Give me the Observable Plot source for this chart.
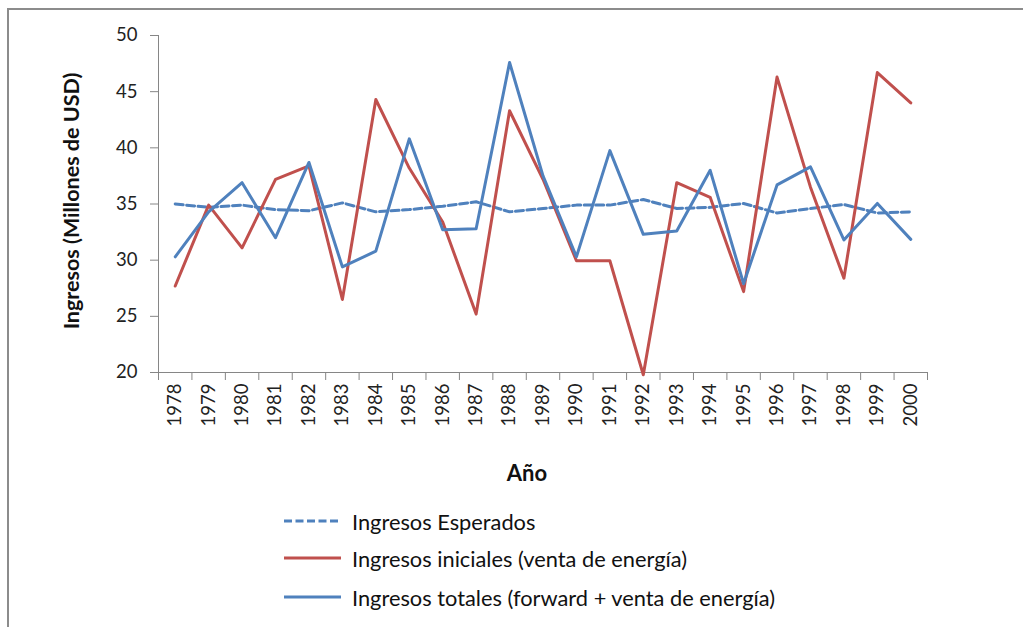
<!DOCTYPE html>
<html>
<head>
<meta charset="utf-8">
<script src="https://cdn.jsdelivr.net/npm/d3@7"></script>
<script src="https://cdn.jsdelivr.net/npm/@observablehq/plot@0.6"></script>
<style>
  html, body { margin: 0; padding: 0; background: #fff; }
  #wrap { position: relative; width: 1023px; height: 627px; overflow: hidden; font-family: Lato, "Open Sans", sans-serif; }
  #frame { position: absolute; left: 7px; top: 8px; width: 1030px; height: 640px; border-left: 2px solid #8c8c8c; border-top: 2px solid #8c8c8c; box-sizing: border-box; }
  #chart { position: absolute; left: 0; top: 0; }
  .leg { position: absolute; left: 284px; height: 30px; display: flex; align-items: center; font-size: 21.8px; color: #111; }
  .leg svg { margin-right: 11px; }
</style>
</head>
<body>
<div id="wrap">
  <div id="frame"></div>
  <div id="chart"></div>
  <div id="legend"></div>
</div>
<script>
const years = [1978,1979,1980,1981,1982,1983,1984,1985,1986,1987,1988,1989,1990,1991,1992,1993,1994,1995,1996,1997,1998,1999,2000];
const esperados = [35.0,34.7,34.9,34.5,34.4,35.1,34.3,34.5,34.8,35.2,34.3,34.6,34.9,34.9,35.4,34.6,34.7,35.05,34.2,34.6,34.95,34.2,34.3];
const iniciales = [27.7,34.9,31.1,37.2,38.4,26.5,44.3,38.2,33.4,25.2,43.3,37.2,29.95,29.95,19.8,36.9,35.6,27.2,46.3,36.5,28.4,46.7,44.0];
const totales = [30.3,34.3,36.9,32.0,38.7,29.4,30.8,40.8,32.7,32.8,47.6,37.5,30.3,39.75,32.3,32.6,38.0,27.9,36.7,38.3,31.8,35.05,31.85];
const yTicks = [20,25,30,35,40,45,50];
const seriesNames = ["Ingresos Esperados", "Ingresos iniciales (venta de energía)", "Ingresos totales (forward + venta de energía)"];
const seriesColors = ["#4F81BD", "#C0504D", "#4F81BD"];
const seriesDash = ["8,3.5", null, null];
const xTitle = "Año";
const yTitle = "Ingresos (Millones de USD)";

const rows = (vals) => years.map((yr, i) => ({year: yr, value: vals[i]}));
const boundaries = [...years.map(y => y - 0.5), years[years.length - 1] + 0.5];
const axisColor = "#868686";

const plot = Plot.plot({
  width: 1023,
  height: 500,
  marginTop: 35,
  marginBottom: 128,
  marginLeft: 158,
  marginRight: 96,
  style: {fontFamily: "Lato, 'Open Sans', sans-serif", background: "transparent", color: "#222"},
  x: {type: "linear", domain: [years[0] - 0.5, years[years.length - 1] + 0.5]},
  y: {domain: [20, 50]},
  marks: [
    Plot.ruleY([20], {stroke: axisColor}),
    Plot.ruleX([years[0] - 0.5], {stroke: axisColor}),
    Plot.axisY({ticks: yTicks, tickSize: 8, tickPadding: 13, fontSize: 18.5, label: null, stroke: axisColor, fill: "#222"}),
    Plot.axisX({ticks: boundaries, tickSize: 8, tickFormat: () => "", label: null, stroke: axisColor}),
    Plot.axisX({ticks: years, tickSize: 0, tickPadding: 11, tickRotate: -90, tickFormat: d => String(d), fontSize: 18.5, label: null, fill: "#222"}),
    Plot.line(rows(esperados), {x: "year", y: "value", stroke: seriesColors[0], strokeWidth: 3, strokeDasharray: seriesDash[0]}),
    Plot.line(rows(iniciales), {x: "year", y: "value", stroke: seriesColors[1], strokeWidth: 3}),
    Plot.line(rows(totales), {x: "year", y: "value", stroke: seriesColors[2], strokeWidth: 3}),
    Plot.text([xTitle], {frameAnchor: "bottom", dy: 108, dx: -16, fontSize: 22, fontWeight: "bold", fill: "#111"}),
    Plot.text([yTitle], {frameAnchor: "left", textAnchor: "middle", dx: -86, dy: -3, rotate: -90, fontSize: 21.5, fontWeight: "bold", fill: "#111"})
  ]
});
document.getElementById("chart").appendChild(plot);

const legend = document.getElementById("legend");
const legTops = [506, 543, 582];
seriesNames.forEach((name, i) => {
  const div = document.createElement("div");
  div.className = "leg";
  div.style.top = legTops[i] + "px";
  const dash = seriesDash[i] ? `stroke-dasharray="${seriesDash[i]}"` : "";
  div.innerHTML = `<svg width="57" height="6"><line x1="0" y1="3" x2="57" y2="3" stroke="${seriesColors[i]}" stroke-width="3" ${dash}/></svg><span>${name}</span>`;
  legend.appendChild(div);
});
</script>
</body>
</html>
